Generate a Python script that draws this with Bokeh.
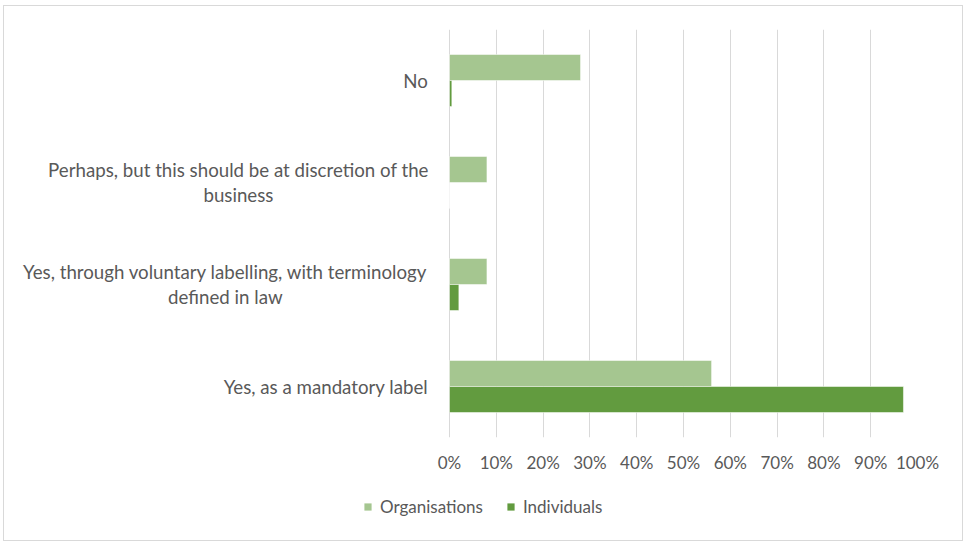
from bokeh.plotting import figure
from bokeh.layouts import column
from bokeh.models import (Range1d, FixedTicker, NumeralTickFormatter,
                          Legend, LegendItem, ColumnDataSource)
from bokeh.embed import file_html
from bokeh.resources import INLINE
from bokeh.core.properties import value

# ---- data ----
categories = [
    "No",
    "Perhaps, but this should be at discretion of the\nbusiness",
    "Yes, through voluntary labelling, with terminology\ndefined in law",
    "Yes, as a mandatory label",
]
organisations = [0.28, 0.08, 0.08, 0.56]
individuals = [0.005, 0.0, 0.02, 0.97]
x_ticks = [0.0, 0.1, 0.2, 0.3, 0.4, 0.5, 0.6, 0.7, 0.8, 0.9, 1.0]
series_names = ["Organisations", "Individuals"]

ORG_COLOR = "#A5C690"
IND_COLOR = "#629B3F"
TEXT_COLOR = "#595959"
FONT = "Lato"

# layout (pixels)
LABEL_AREA = 445      # px left of the 0% line
PLOT_W = 468          # px from 0% to 100%
RIGHT_PAD = 45
TOTAL_W = LABEL_AREA + PLOT_W + RIGHT_PAD
n = len(categories)
centers = [n - i - 0.5 for i in range(n)]
bar_h = 0.255
org_y = [c + bar_h / 2 for c in centers]
ind_y = [c - bar_h / 2 for c in centers]

p = figure(frame_width=LABEL_AREA + PLOT_W, frame_height=408,
           output_backend="svg", toolbar_location=None,
           x_range=Range1d(-LABEL_AREA / PLOT_W, 1), y_range=Range1d(0, n),
           min_border_left=0, min_border_right=RIGHT_PAD,
           min_border_top=23, min_border_bottom=50)
p.outline_line_color = None
p.background_fill_color = "white"
p.border_fill_color = "white"

src_org = ColumnDataSource(dict(y=org_y, right=organisations))
src_ind = ColumnDataSource(dict(y=ind_y, right=individuals))
p.hbar(y="y", left=0, right="right", height=bar_h, source=src_org,
       fill_color=ORG_COLOR, line_color="white", line_width=0.5)
p.hbar(y="y", left=0, right="right", height=bar_h, source=src_ind,
       fill_color=IND_COLOR, line_color="white", line_width=0.5)

p.yaxis.visible = False
p.ygrid.visible = False
p.xaxis.ticker = FixedTicker(ticks=x_ticks)
p.xgrid.ticker = FixedTicker(ticks=x_ticks)
p.xaxis.formatter = NumeralTickFormatter(format="0%")
p.xaxis.axis_line_color = None
p.xaxis.major_tick_line_color = None
p.xaxis.minor_tick_line_color = None
p.xaxis.major_tick_out = 0
p.xaxis.major_tick_in = 0
p.xaxis.major_label_standoff = 14
p.xaxis.major_label_text_font = FONT
p.xaxis.major_label_text_font_size = "17px"
p.xaxis.major_label_text_color = TEXT_COLOR
p.xgrid.grid_line_color = "#D9D9D9"
p.xgrid.grid_line_width = 1

# category labels (centered block, right edge ~20px left of the 0% line)
label_centers = [-0.0726, -0.451, -0.479, -0.264]
lab_src = ColumnDataSource(dict(x=label_centers, y=centers, text=categories))
p.text(x="x", y="y", text="text", source=lab_src, text_align="center",
       text_baseline="middle", text_font=value(FONT), text_font_size="18.7px",
       text_color=TEXT_COLOR, text_line_height=1.1)

# ---- legend strip (same data sources, drawn outside its visible range) ----
leg = figure(width=TOTAL_W, height=53, output_backend="svg",
             toolbar_location=None, x_axis_type=None, y_axis_type=None,
             min_border=0, x_range=Range1d(0, 1), y_range=Range1d(10, 11))
leg.outline_line_color = None
leg.xgrid.visible = False
leg.ygrid.visible = False
leg_org = leg.hbar(y="y", left=0, right="right", height=bar_h, source=src_org,
                   fill_color=ORG_COLOR, line_color=None)
leg_ind = leg.hbar(y="y", left=0, right="right", height=bar_h, source=src_ind,
                   fill_color=IND_COLOR, line_color=None)
legend = Legend(items=[LegendItem(label=series_names[0], renderers=[leg_org]),
                       LegendItem(label=series_names[1], renderers=[leg_ind])],
                orientation="horizontal", location=(359, 23),
                glyph_width=9, glyph_height=9, label_text_font=FONT,
                label_text_font_size="17px", label_text_color=TEXT_COLOR,
                spacing=23, padding=0, margin=0, border_line_color=None,
                background_fill_alpha=0, label_standoff=8)
leg.add_layout(legend)

layout = column(p, leg, spacing=0,
                styles={"border": "1px solid #D9D9D9", "margin-left": "3px",
                        "margin-top": "5px"})

open("out.html", "w").write(file_html(layout, INLINE))
